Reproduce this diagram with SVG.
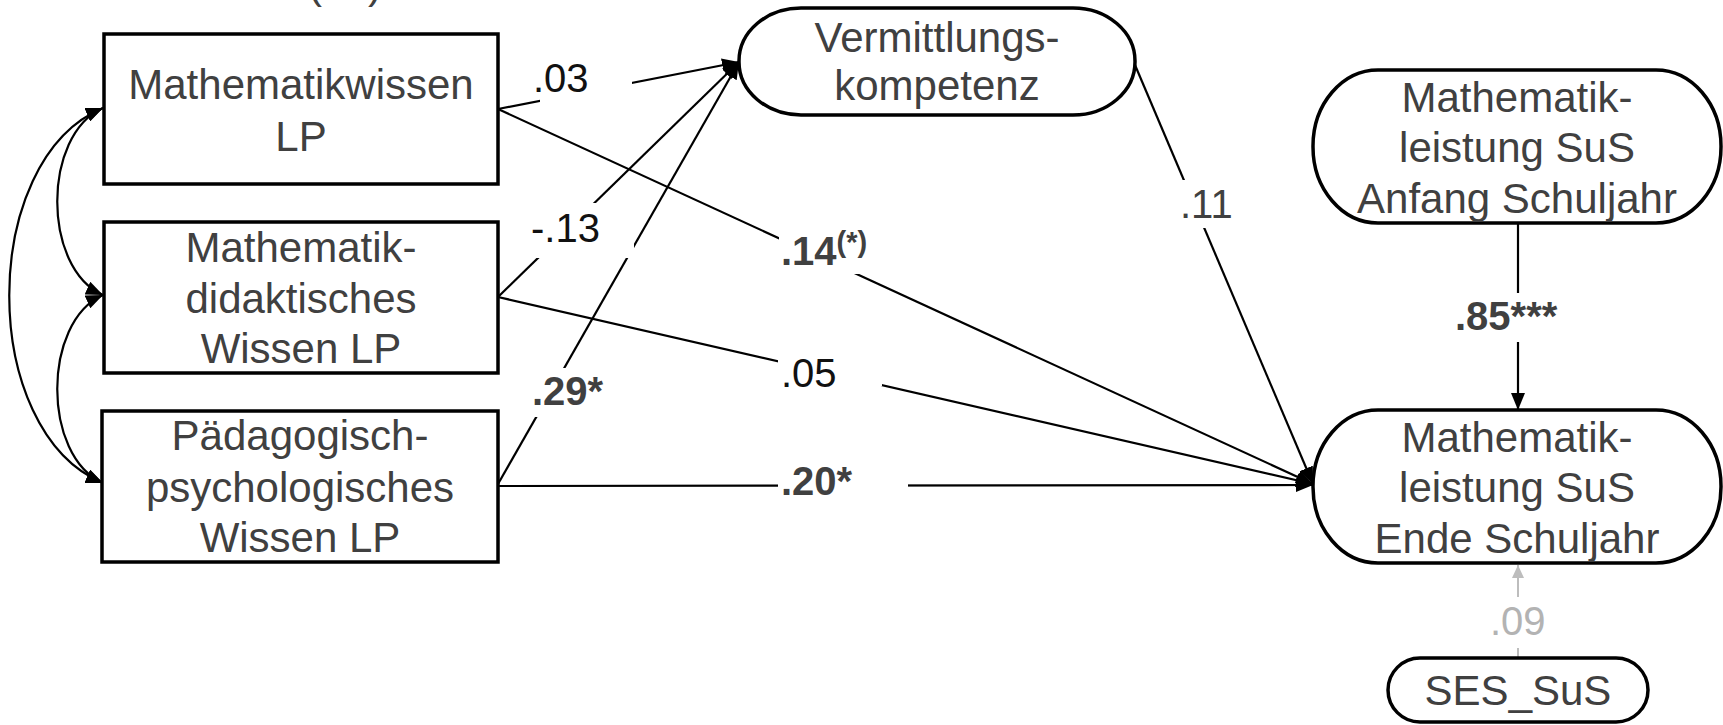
<svg xmlns="http://www.w3.org/2000/svg" width="1723" height="725" viewBox="0 0 1723 725">
<style>
.node{fill:#fff;stroke:#000;stroke-width:3.5}
.ntext{font-family:"Liberation Sans",Arial,sans-serif;font-size:42px;fill:#404040;text-anchor:middle}
.edge{fill:none;stroke:#000;stroke-width:2.2}
.lbl{font-family:"Liberation Sans",Arial,sans-serif;font-size:40px;fill:#111}
.lblg{font-family:"Liberation Sans",Arial,sans-serif;font-size:40px;fill:#404040}
.lbll{font-family:"Liberation Sans",Arial,sans-serif;font-size:40px;fill:#b3b3b3}
.lblb{font-family:"Liberation Sans",Arial,sans-serif;font-size:40px;font-weight:bold;fill:#404040}
.bg{fill:#fff;stroke:none}
</style>
<defs>
<marker id="ah" markerUnits="userSpaceOnUse" markerWidth="18" markerHeight="14" refX="17" refY="7" orient="auto-start-reverse">
<path d="M0,0 L17,7 L0,14 z" fill="#000"/>
</marker>
<marker id="ahg" markerUnits="userSpaceOnUse" markerWidth="14" markerHeight="12" refX="13" refY="6" orient="auto">
<path d="M0,0 L13,6 L0,12 z" fill="#bdbdbd"/>
</marker>
</defs>
<rect width="1723" height="725" fill="#fff"/>
<text class="ntext" y="-2"><tspan x="315">(</tspan><tspan x="375">)</tspan></text>
<g id="connectors">
<path class="edge" d="M103,108 C42,135 42,268 103,295" marker-start="url(#ah)" marker-end="url(#ah)"/>
<path class="edge" d="M103,295 C42,322 42,456 103,483" marker-start="url(#ah)" marker-end="url(#ah)"/>
<path class="edge" d="M103,108 C-22,160 -22,431 103,483" marker-start="url(#ah)" marker-end="url(#ah)"/>
<line class="edge" x1="498" y1="109" x2="739" y2="62" marker-end="url(#ah)"/>
<line class="edge" x1="498" y1="297" x2="739" y2="62" marker-end="url(#ah)"/>
<line class="edge" x1="498" y1="484" x2="739" y2="62" marker-end="url(#ah)"/>
<line class="edge" x1="498" y1="109" x2="1313" y2="484" marker-end="url(#ah)"/>
<line class="edge" x1="498" y1="297" x2="1313" y2="484" marker-end="url(#ah)"/>
<line class="edge" x1="498" y1="486" x2="1313" y2="485" marker-end="url(#ah)"/>
<line class="edge" x1="1135" y1="65" x2="1313" y2="484" marker-end="url(#ah)"/>
<line class="edge" x1="1518" y1="223" x2="1518" y2="410" marker-end="url(#ah)"/>
<line x1="1518" y1="657" x2="1518" y2="565" stroke="#bdbdbd" stroke-width="2" marker-end="url(#ahg)"/>
<rect class="bg" x="540" y="55" width="92" height="47"/>
<rect class="bg" x="527" y="203" width="107" height="55"/>
<rect class="bg" x="528" y="368" width="82" height="49"/>
<rect class="bg" x="779" y="225" width="100" height="49"/>
<rect class="bg" x="778" y="345" width="104" height="41"/>
<rect class="bg" x="778" y="455" width="130" height="45"/>
<rect class="bg" x="1170" y="180" width="65" height="48"/>
<rect class="bg" x="1450" y="293" width="115" height="49"/>
<rect class="bg" x="1485" y="597" width="65" height="51"/>
<text class="lbl" x="533" y="92">.03</text>
<text class="lbl" x="531" y="242">-.13</text>
<text class="lblb" x="532" y="405">.29*</text>
<text class="lblb" x="781" y="265">.14<tspan font-size="29" dy="-13">(*)</tspan></text>
<text class="lbl" x="781" y="387">.05</text>
<text class="lblb" x="781" y="495">.20*</text>
<text class="lblg" x="1180" y="218">.11</text>
<text class="lblb" x="1455" y="330">.85***</text>
<text class="lbll" x="1490" y="635">.09</text>
</g>
<g id="n-mathwissen">
<rect class="node" x="104" y="34" width="394" height="150"/>
<text class="ntext"><tspan x="301" y="99">Mathematikwissen</tspan><tspan x="301" y="151">LP</tspan></text>
</g>
<g id="n-mathdidaktik">
<rect class="node" x="104" y="222" width="394" height="151"/>
<text class="ntext"><tspan x="301" y="262">Mathematik-</tspan><tspan x="301" y="313">didaktisches</tspan><tspan x="301" y="363">Wissen LP</tspan></text>
</g>
<g id="n-paedpsych">
<rect class="node" x="102" y="411" width="396" height="151"/>
<text class="ntext"><tspan x="300" y="450">Pädagogisch-</tspan><tspan x="300" y="502">psychologisches</tspan><tspan x="300" y="552">Wissen LP</tspan></text>
</g>
<g id="n-vermittlung">
<rect class="node" x="739" y="8" width="396" height="107" rx="62" ry="53"/>
<text class="ntext"><tspan x="937" y="52">Vermittlungs-</tspan><tspan x="937" y="100">kompetenz</tspan></text>
</g>
<g id="n-anfang">
<rect class="node" x="1313" y="70" width="408" height="153" rx="65" ry="76"/>
<text class="ntext"><tspan x="1517" y="112">Mathematik-</tspan><tspan x="1517" y="162">leistung SuS</tspan><tspan x="1517" y="213">Anfang Schuljahr</tspan></text>
</g>
<g id="n-ende">
<rect class="node" x="1313" y="410" width="408" height="153" rx="65" ry="76"/>
<text class="ntext"><tspan x="1517" y="452">Mathematik-</tspan><tspan x="1517" y="502">leistung SuS</tspan><tspan x="1517" y="553">Ende Schuljahr</tspan></text>
</g>
<g id="n-ses">
<rect class="node" x="1388" y="658" width="260" height="64" rx="32" ry="32"/>
<text class="ntext" x="1518" y="705">SES_SuS</text>
</g>
</svg>
